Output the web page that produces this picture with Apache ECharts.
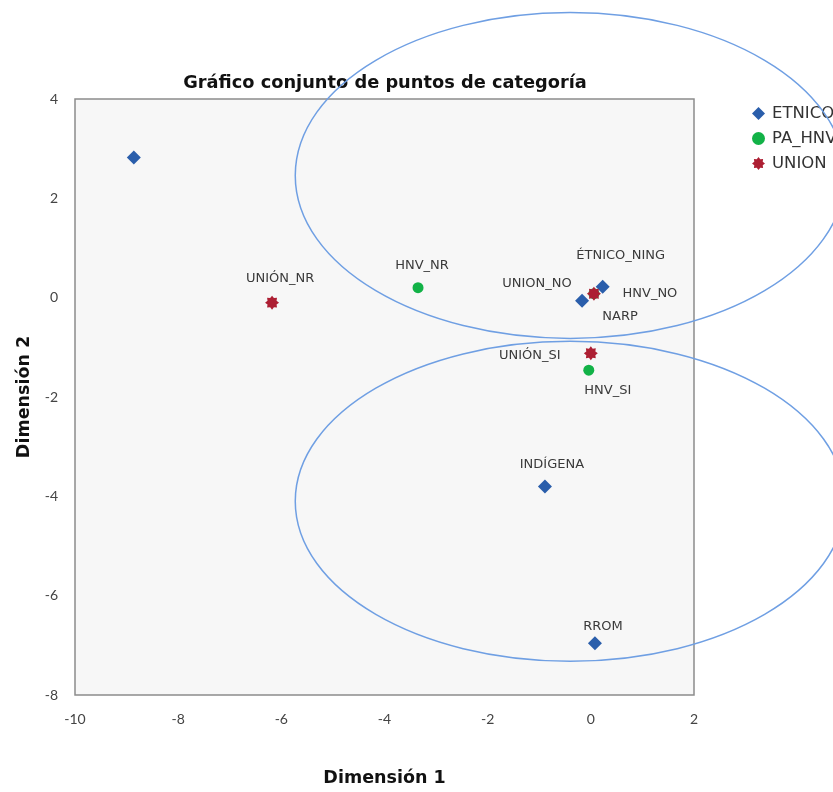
<!DOCTYPE html>
<html>
<head>
<meta charset="utf-8">
<script src="https://cdn.jsdelivr.net/npm/echarts@6/dist/echarts.min.js"></script>
<style>
html,body{margin:0;padding:0;background:#fff;}
#c{width:833px;height:792px;}
</style>
</head>
<body>
<div id="c"></div>
<script>
// ---- data ----
var seriesNames = ['ETNICO', 'PA_HNV', 'UNION'];
var etnicoNames = ['', 'ÉTNICO_NING', 'NARP', 'INDÍGENA', 'RROM'];
var etnicoX = [-8.86, 0.23, -0.17, -0.89, 0.08];
var etnicoY = [2.82, 0.22, -0.06, -3.80, -6.96];
var hnvNames = ['HNV_NR', 'HNV_NO', 'HNV_SI'];
var hnvX = [-3.35, 0.06, -0.04];
var hnvY = [0.20, 0.08, -1.46];
var unionNames = ['UNIÓN_NR', 'UNION_NO', 'UNIÓN_SI'];
var unionX = [-6.18, 0.06, 0.00];
var unionY = [-0.10, 0.08, -1.12];
var xTicks = [-10, -8, -6, -4, -2, 0, 2];
var yTicks = [-8, -6, -4, -2, 0, 2, 4];
// annotation ellipses (data units): center x, center y, radius x, radius y
var ellipseCX = [-0.40, -0.40];
var ellipseCY = [2.46, -4.10];
var ellipseRX = [5.33, 5.33];
var ellipseRY = [3.28, 3.22];

// ---- label placement (pixels, relative to marker) ----
var labelOffsets = {
  'ÉTNICO_NING': [18, -31], 'NARP': [38, 16], 'INDÍGENA': [7, -22], 'RROM': [8, -17],
  'HNV_NR': [4, -22], 'HNV_NO': [56, 0], 'HNV_SI': [19, 20],
  'UNIÓN_NR': [8, -24], 'UNION_NO': [-57, -10], 'UNIÓN_SI': [-61, 2]
};

function starPath() {
  var pts = [], n = 8;
  for (var i = 0; i < n * 2; i++) {
    var r = (i % 2 === 0) ? 10 : 7.0;
    var a = Math.PI * i / n - Math.PI / 2;
    pts.push((10 + r * Math.cos(a)).toFixed(2) + ' ' + (10 + r * Math.sin(a)).toFixed(2));
  }
  return 'path://M' + pts.join(' L') + ' Z';
}
var STAR = starPath();

function build(names, xs, ys) {
  return names.map(function (n, i) {
    var off = labelOffsets[n] || [0, 0];
    return {
      name: n, value: [xs[i], ys[i]],
      label: { show: n !== '', offset: off }
    };
  });
}

var FONT = 'DejaVu Sans';
var labelStyle = {
  show: true, position: 'inside', formatter: '{b}',
  color: '#3a3a3a', fontSize: 13, fontFamily: FONT
};

var chart = echarts.init(document.getElementById('c'), null, { renderer: 'canvas' });
var option = {
  backgroundColor: '#ffffff',
  animation: false,
  title: {
    text: 'Gráfico conjunto de puntos de categoría',
    left: 380, top: 69, textAlign: 'center',
    textStyle: { fontFamily: FONT, fontWeight: 'bold', fontSize: 17.8, color: '#111' }
  },
  legend: {
    orient: 'vertical', left: 752, top: 105, padding: 0, itemGap: 8,
    itemWidth: 13, itemHeight: 13,
    textStyle: { fontFamily: FONT, fontSize: 16.5, color: '#333', padding: [0, 0, 0, 2] },
    data: [
      { name: 'ETNICO', icon: 'diamond' },
      { name: 'PA_HNV', icon: 'circle' },
      { name: 'UNION', icon: STAR }
    ]
  },
  grid: { left: 75, top: 99, width: 619, height: 600, show: true,
    backgroundColor: '#f7f7f7', borderColor: '#8c8c8c', borderWidth: 1.5 },
  xAxis: {
    type: 'value', min: -10, max: 2, interval: 2,
    name: 'Dimensión 1', nameLocation: 'middle', nameGap: 74,
    nameTextStyle: { fontFamily: FONT, fontWeight: 'bold', fontSize: 17.5, color: '#111' },
    axisLine: { show: false }, axisTick: { show: false }, splitLine: { show: false },
    axisLabel: { margin: 17, fontFamily: 'Lato', fontSize: 14, color: '#444',
      customValues: xTicks, showMinLabel: true, showMaxLabel: true }
  },
  yAxis: {
    type: 'value', min: -8, max: 4, interval: 2,
    name: 'Dimensión 2', nameLocation: 'middle', nameGap: 39, nameRotate: 90,
    nameTextStyle: { fontFamily: FONT, fontWeight: 'bold', fontSize: 17.5, color: '#111' },
    axisLine: { show: false }, axisTick: { show: false }, splitLine: { show: false },
    axisLabel: { margin: 17, fontFamily: 'Lato', fontSize: 14, color: '#444',
      customValues: yTicks, showMinLabel: true, showMaxLabel: true }
  },
  series: [
    { name: 'ETNICO', type: 'scatter', symbol: 'diamond', symbolSize: 14,
      itemStyle: { color: '#2a5eab', opacity: 1 }, label: labelStyle, z: 3,
      data: build(etnicoNames, etnicoX, etnicoY) },
    { name: 'PA_HNV', type: 'scatter', symbol: 'circle', symbolSize: 11,
      itemStyle: { color: '#12b247', opacity: 1 }, label: labelStyle, z: 2,
      data: build(hnvNames, hnvX, hnvY) },
    { name: 'UNION', type: 'scatter', symbol: STAR, symbolSize: 14,
      itemStyle: { color: '#ad1f33', opacity: 1 }, label: labelStyle, z: 4,
      data: build(unionNames, unionX, unionY) }
  ]
};
chart.setOption(option);

// annotation ellipses placed via the axis scales
var els = [];
for (var i = 0; i < ellipseCX.length; i++) {
  var c = chart.convertToPixel({ gridIndex: 0 }, [ellipseCX[i], ellipseCY[i]]);
  var e = chart.convertToPixel({ gridIndex: 0 }, [ellipseCX[i] + ellipseRX[i], ellipseCY[i] - ellipseRY[i]]);
  els.push({
    type: 'ellipse', z: 100, silent: true,
    shape: { cx: c[0], cy: c[1], rx: Math.abs(e[0] - c[0]), ry: Math.abs(e[1] - c[1]) },
    style: { fill: null, stroke: '#6f9fe3', lineWidth: 1.5 }
  });
}
chart.setOption({ graphic: { elements: els } });
</script>
</body>
</html>
